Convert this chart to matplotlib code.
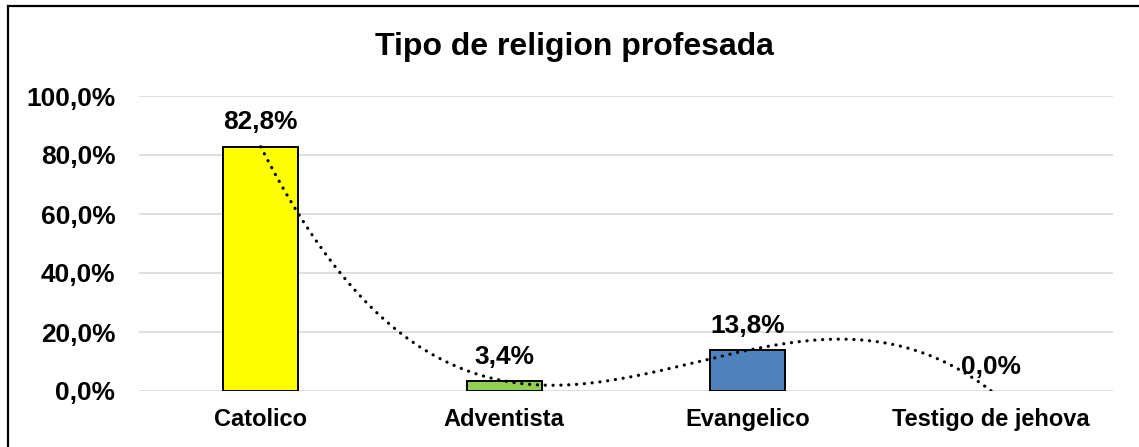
import numpy as np
import matplotlib
matplotlib.use("Agg")
import matplotlib.pyplot as plt
from matplotlib.lines import Line2D

categories = ["Catolico", "Adventista", "Evangelico", "Testigo de jehova"]
values = [82.8, 3.4, 13.8, 0.0]
bar_colors = ["#FFFF00", "#92D050", "#4F81BD", "#4F81BD"]
yticks = [0, 20, 40, 60, 80, 100]
ytick_labels = ["0,0%", "20,0%", "40,0%", "60,0%", "80,0%", "100,0%"]
title = "Tipo de religion profesada"

plt.rcParams['font.family'] = ['Liberation Sans', 'DejaVu Sans']
plt.rcParams['font.weight'] = 'bold'

W, H = 1139, 447
fig = plt.figure(figsize=(W / 100, H / 100), dpi=100)
ax = fig.add_axes([139 / W, 56 / H, (1113 - 139) / W, (391 - 96) / H])

x = np.arange(len(categories))
edges = ["black" if v > 0 else "none" for v in values]
ax.bar(x, values, width=0.31, color=bar_colors, edgecolor=edges, linewidth=1.4, zorder=3)

# polynomial (order 3) trendline as in Excel, x = 1..n
xs = np.arange(1, len(values) + 1)
coef = np.polyfit(xs, values, 3)
xf = np.linspace(1, len(values), 400)
ax.plot(xf - 1, np.polyval(coef, xf), color="black", linewidth=2.3,
        linestyle=(0, (0.05, 2.4)), dash_capstyle="round", zorder=4)

for xi, v in zip(x, values):
    ax.annotate(f"{v:.1f}%".replace(".", ","), (xi, v), xytext=(0, 17.5),
                textcoords="offset points", ha="center", va="center",
                fontsize=18.9, fontweight="bold", zorder=5)

ax.set_xlim(-0.5, len(categories) - 0.5)
ax.set_ylim(0, 100)
ax.set_yticks(yticks)
ax.set_yticklabels(ytick_labels, fontsize=18.9, fontweight="bold")
ax.set_xticks(x)
ax.set_xticklabels(categories, fontsize=17, fontweight="bold")
ax.tick_params(axis="y", length=0, pad=17)
ax.tick_params(axis="x", length=0, pad=12)
ax.grid(axis="y", color="#D9D9D9", linewidth=1.2, zorder=0)
for s in ax.spines.values():
    s.set_visible(False)

fig.text(574 / W, 1 - 47 / H, title, ha="center", va="center", fontsize=23, fontweight="bold")

# chart border (top and left visible)
fig.add_artist(Line2D([8 / W, 1.0], [1 - 5.5 / H, 1 - 5.5 / H], transform=fig.transFigure, color="black", linewidth=1.6))
fig.add_artist(Line2D([8 / W, 8 / W], [0, 1 - 5.5 / H], transform=fig.transFigure, color="black", linewidth=1.6))

fig.savefig("out.png", dpi=100)
